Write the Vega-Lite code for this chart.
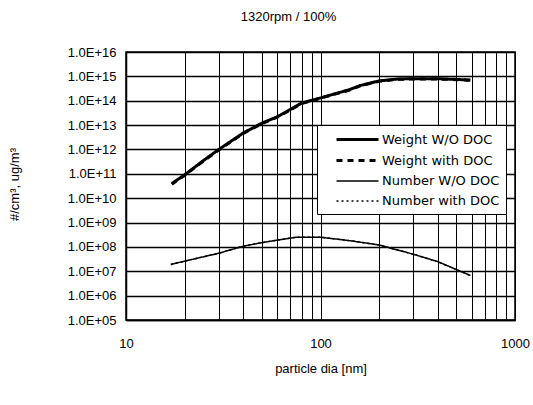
{
  "$schema": "https://vega.github.io/schema/vega-lite/v6.json",
  "autosize": "none",
  "width": 389,
  "height": 268,
  "padding": {"left": 126, "top": 52, "right": 18, "bottom": 85},
  "background": "white",
  "title": {"text": "1320rpm / 100%", "fontSize": 13, "font": "Liberation Sans", "fontWeight": "normal", "color": "black", "anchor": "middle", "dx": -32, "offset": 22},
  "config": {
    "view": {"stroke": "black", "strokeWidth": 1.5},
    "font": "Liberation Sans"
  },
  "data": {"values": [
    {"series": "Weight W/O DOC", "d": 17.2, "v": 4e10},
    {"series": "Weight W/O DOC", "d": 20, "v": 9e10},
    {"series": "Weight W/O DOC", "d": 25, "v": 3.5e11},
    {"series": "Weight W/O DOC", "d": 30, "v": 1e12},
    {"series": "Weight W/O DOC", "d": 40, "v": 4.7e12},
    {"series": "Weight W/O DOC", "d": 50, "v": 1.2e13},
    {"series": "Weight W/O DOC", "d": 60, "v": 2.2e13},
    {"series": "Weight W/O DOC", "d": 80, "v": 8e13},
    {"series": "Weight W/O DOC", "d": 100, "v": 1.3e14},
    {"series": "Weight W/O DOC", "d": 140, "v": 2.8e14},
    {"series": "Weight W/O DOC", "d": 160, "v": 4.2e14},
    {"series": "Weight W/O DOC", "d": 200, "v": 6.5e14},
    {"series": "Weight W/O DOC", "d": 250, "v": 7.8e14},
    {"series": "Weight W/O DOC", "d": 300, "v": 8e14},
    {"series": "Weight W/O DOC", "d": 400, "v": 8e14},
    {"series": "Weight W/O DOC", "d": 500, "v": 7.5e14},
    {"series": "Weight W/O DOC", "d": 590, "v": 7e14},
    {"series": "Weight with DOC", "d": 17.2, "v": 3.7e10},
    {"series": "Weight with DOC", "d": 20, "v": 8.6e10},
    {"series": "Weight with DOC", "d": 25, "v": 3.3e11},
    {"series": "Weight with DOC", "d": 30, "v": 9.5e11},
    {"series": "Weight with DOC", "d": 40, "v": 4.5e12},
    {"series": "Weight with DOC", "d": 50, "v": 1.15e13},
    {"series": "Weight with DOC", "d": 60, "v": 2.1e13},
    {"series": "Weight with DOC", "d": 80, "v": 7.7e13},
    {"series": "Weight with DOC", "d": 100, "v": 1.27e14},
    {"series": "Weight with DOC", "d": 140, "v": 2.7e14},
    {"series": "Weight with DOC", "d": 160, "v": 4.1e14},
    {"series": "Weight with DOC", "d": 200, "v": 6.3e14},
    {"series": "Weight with DOC", "d": 250, "v": 7.6e14},
    {"series": "Weight with DOC", "d": 300, "v": 7.8e14},
    {"series": "Weight with DOC", "d": 400, "v": 7.8e14},
    {"series": "Weight with DOC", "d": 500, "v": 7.3e14},
    {"series": "Weight with DOC", "d": 590, "v": 6.9e14},
    {"series": "Number W/O DOC", "d": 17.0, "v": 1.9e7},
    {"series": "Number W/O DOC", "d": 20, "v": 2.6e7},
    {"series": "Number W/O DOC", "d": 30, "v": 5.5e7},
    {"series": "Number W/O DOC", "d": 40, "v": 1.07e8},
    {"series": "Number W/O DOC", "d": 50, "v": 1.5e8},
    {"series": "Number W/O DOC", "d": 60, "v": 1.9e8},
    {"series": "Number W/O DOC", "d": 75, "v": 2.5e8},
    {"series": "Number W/O DOC", "d": 100, "v": 2.5e8},
    {"series": "Number W/O DOC", "d": 142, "v": 1.8e8},
    {"series": "Number W/O DOC", "d": 200, "v": 1.2e8},
    {"series": "Number W/O DOC", "d": 300, "v": 5e7},
    {"series": "Number W/O DOC", "d": 400, "v": 2.5e7},
    {"series": "Number W/O DOC", "d": 590, "v": 6.7e6},
    {"series": "Number with DOC", "d": 17.0, "v": 1.9e7},
    {"series": "Number with DOC", "d": 20, "v": 2.6e7},
    {"series": "Number with DOC", "d": 30, "v": 5.5e7},
    {"series": "Number with DOC", "d": 40, "v": 1.07e8},
    {"series": "Number with DOC", "d": 50, "v": 1.5e8},
    {"series": "Number with DOC", "d": 60, "v": 1.9e8},
    {"series": "Number with DOC", "d": 75, "v": 2.5e8},
    {"series": "Number with DOC", "d": 100, "v": 2.5e8},
    {"series": "Number with DOC", "d": 142, "v": 1.8e8},
    {"series": "Number with DOC", "d": 200, "v": 1.2e8},
    {"series": "Number with DOC", "d": 300, "v": 5e7},
    {"series": "Number with DOC", "d": 400, "v": 2.5e7},
    {"series": "Number with DOC", "d": 590, "v": 6.7e6}
  ]},
  "mark": {"type": "line", "color": "black", "clip": true},
  "encoding": {
    "x": {
      "field": "d", "type": "quantitative",
      "scale": {"type": "log", "domain": [10, 1000], "nice": false},
      "axis": {
        "title": "particle dia  [nm]",
        "titleFontSize": 13, "titleFontWeight": "normal", "titleColor": "black", "titlePadding": 12,
        "values": [10, 20, 30, 40, 50, 60, 70, 80, 90, 100, 200, 300, 400, 500, 600, 700, 800, 900, 1000],
        "labelExpr": "datum.value == 10 || datum.value == 100 || datum.value == 1000 ? '' + datum.value : ''",
        "labelFontSize": 13, "labelColor": "black", "labelPadding": 17, "labelFlush": false, "labelOverlap": false,
        "ticks": false, "domainColor": "black", "domainWidth": 1.5,
        "grid": true, "gridColor": "black", "gridOpacity": 1, "gridWidth": 1
      }
    },
    "y": {
      "field": "v", "type": "quantitative",
      "scale": {"type": "log", "domain": [1e5, 1e16], "nice": false},
      "axis": {
        "title": "#/cm³,  ug/m³",
        "titleFontSize": 13, "titleFontWeight": "normal", "titleColor": "black", "titleX": -112, "titleY": 132, "titleAngle": 270, "titleAlign": "center", "titleBaseline": "middle",
        "values": [1e5, 1e6, 1e7, 1e8, 1e9, 1e10, 1e11, 1e12, 1e13, 1e14, 1e15, 1e16],
        "labelExpr": "'1.0E+' + (round(log(datum.value)/LN10) < 10 ? '0' : '') + round(log(datum.value)/LN10)",
        "labelFontSize": 13, "labelColor": "black", "labelPadding": 10, "labelOverlap": false, "labelFlush": false,
        "ticks": false, "domainColor": "black", "domainWidth": 1.5,
        "grid": true, "gridColor": "black", "gridOpacity": 1, "gridWidth": 1.3
      }
    },
    "strokeDash": {
      "field": "series", "type": "nominal",
      "scale": {"domain": ["Weight W/O DOC", "Weight with DOC", "Number W/O DOC", "Number with DOC"], "range": [[1, 0], [6, 5], [1, 0], [2, 3]]},
      "legend": {
        "title": null, "orient": "none", "legendX": 191, "legendY": 73,
        "strokeColor": "black", "fillColor": "white", "padding": 6,
        "symbolType": "M-1,0H5", "symbolSize": 196, "symbolStrokeColor": "black", "symbolFillColor": "transparent", "symbolOffset": 12,
        "labelFont": "DejaVu Sans", "labelFontSize": 13, "labelColor": "black", "labelOffset": 30, "rowPadding": 5
      }
    },
    "strokeWidth": {
      "field": "series", "type": "ordinal",
      "scale": {"type": "ordinal", "domain": ["Weight W/O DOC", "Weight with DOC", "Number W/O DOC", "Number with DOC"], "range": [3, 3, 1.5, 1.5]},
      "legend": {
        "title": null, "orient": "none", "legendX": 191, "legendY": 73,
        "strokeColor": "black", "fillColor": "white", "padding": 6,
        "symbolType": "M-1,0H5", "symbolSize": 196, "symbolStrokeColor": "black", "symbolFillColor": "transparent", "symbolOffset": 12,
        "labelFont": "DejaVu Sans", "labelFontSize": 13, "labelColor": "black", "labelOffset": 30, "rowPadding": 5
      }
    }
  }
}
